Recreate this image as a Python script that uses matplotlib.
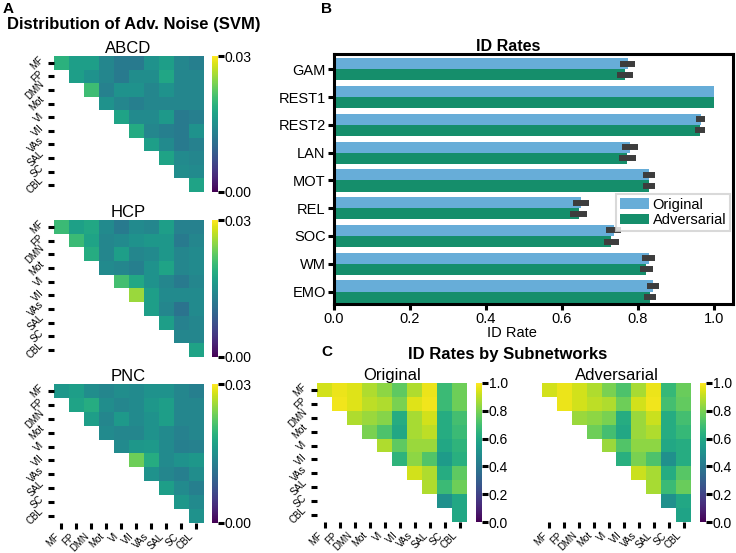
import numpy as np
import matplotlib
matplotlib.use("Agg")
import matplotlib.pyplot as plt

plt.rcParams['font.family'] = ['Liberation Sans', 'DejaVu Sans']

W, H = 736, 553

nets = ['MF', 'FP', 'DMN', 'Mot', 'VI', 'VII', 'VAs', 'SAL', 'SC', 'CBL']

# adversarial noise (fraction of the 0.03 colour range), upper triangle row by row
abcd_rows = [
    [0.64, 0.56, 0.56, 0.46, 0.41, 0.41, 0.51, 0.56, 0.46, 0.43],
    [0.56, 0.51, 0.46, 0.41, 0.49, 0.49, 0.59, 0.46, 0.46],
    [0.69, 0.44, 0.51, 0.51, 0.46, 0.51, 0.46, 0.46],
    [0.51, 0.46, 0.43, 0.46, 0.46, 0.46, 0.46],
    [0.58, 0.48, 0.48, 0.54, 0.41, 0.43],
    [0.61, 0.46, 0.43, 0.41, 0.51],
    [0.56, 0.48, 0.41, 0.44],
    [0.58, 0.48, 0.46],
    [0.49, 0.48],
    [0.58],
]
hcp_rows = [
    [0.68, 0.57, 0.60, 0.48, 0.41, 0.48, 0.46, 0.56, 0.44, 0.44],
    [0.68, 0.58, 0.46, 0.48, 0.51, 0.53, 0.53, 0.41, 0.46],
    [0.62, 0.46, 0.56, 0.46, 0.48, 0.53, 0.46, 0.48],
    [0.48, 0.46, 0.43, 0.51, 0.58, 0.46, 0.48],
    [0.70, 0.60, 0.51, 0.46, 0.41, 0.46],
    [0.85, 0.56, 0.48, 0.48, 0.48],
    [0.56, 0.46, 0.38, 0.48],
    [0.56, 0.44, 0.46],
    [0.46, 0.46],
    [0.58],
]
pnc_rows = [
    [0.53, 0.56, 0.49, 0.46, 0.49, 0.48, 0.51, 0.51, 0.46, 0.43],
    [0.58, 0.62, 0.49, 0.46, 0.48, 0.53, 0.56, 0.46, 0.46],
    [0.56, 0.46, 0.54, 0.48, 0.51, 0.56, 0.46, 0.46],
    [0.48, 0.46, 0.46, 0.51, 0.48, 0.44, 0.46],
    [0.48, 0.53, 0.54, 0.48, 0.43, 0.44],
    [0.78, 0.62, 0.48, 0.51, 0.53],
    [0.51, 0.46, 0.43, 0.49],
    [0.56, 0.48, 0.43],
    [0.53, 0.48],
    [0.51],
]

# ID rates by subnetwork pair
orig_rows = [
    [0.93, 0.97, 0.95, 0.88, 0.83, 0.75, 0.88, 0.97, 0.68, 0.78],
    [0.98, 0.95, 0.90, 0.88, 0.80, 0.95, 0.98, 0.68, 0.78],
    [0.88, 0.85, 0.82, 0.62, 0.87, 0.93, 0.62, 0.70],
    [0.80, 0.72, 0.60, 0.87, 0.90, 0.62, 0.68],
    [0.88, 0.75, 0.85, 0.85, 0.60, 0.65],
    [0.65, 0.83, 0.73, 0.55, 0.63],
    [0.93, 0.88, 0.62, 0.75],
    [0.88, 0.68, 0.78],
    [0.50, 0.60],
    [0.60],
]
adv_rows = [
    [0.93, 0.97, 0.93, 0.88, 0.80, 0.72, 0.87, 0.97, 0.67, 0.77],
    [0.97, 0.93, 0.90, 0.88, 0.78, 0.93, 0.98, 0.70, 0.76],
    [0.85, 0.83, 0.80, 0.62, 0.85, 0.92, 0.62, 0.70],
    [0.78, 0.70, 0.60, 0.85, 0.88, 0.62, 0.67],
    [0.85, 0.73, 0.83, 0.83, 0.60, 0.62],
    [0.63, 0.80, 0.72, 0.50, 0.62],
    [0.92, 0.87, 0.62, 0.74],
    [0.87, 0.68, 0.77],
    [0.50, 0.60],
    [0.58],
]

tasks = ['GAM', 'REST1', 'REST2', 'LAN', 'MOT', 'REL', 'SOC', 'WM', 'EMO']
orig_rate = [0.773, 1.0, 0.965, 0.778, 0.830, 0.650, 0.736, 0.828, 0.840]
adv_rate = [0.767, 1.0, 0.963, 0.772, 0.830, 0.644, 0.730, 0.822, 0.832]
orig_err = [0.020, 0.0, 0.012, 0.021, 0.016, 0.022, 0.020, 0.018, 0.016]
adv_err = [0.021, 0.0, 0.013, 0.022, 0.016, 0.022, 0.020, 0.018, 0.016]

c_orig = '#67add8'
c_adv = '#158e6b'


def to_matrix(rows, scale=1.0):
    n = len(rows)
    m = np.full((n, n), np.nan)
    for i, r in enumerate(rows):
        m[i, i:] = np.array(r) * scale
    return np.ma.masked_invalid(m)


def px_axes(fig, left, top, right, bottom):
    return fig.add_axes([left / W, 1 - bottom / H, (right - left) / W, (bottom - top) / H])


def draw_heat(fig, mat, box, cbox, vmax, ticks, fmt, title, ylab=True, xlab=False):
    ax = px_axes(fig, *box)
    im = ax.imshow(mat, cmap='viridis', vmin=0, vmax=vmax, aspect='auto',
                   interpolation='nearest')
    for s in ax.spines.values():
        s.set_visible(False)
    ax.set_title(title, fontsize=12, pad=2)
    ax.set_yticks(range(len(nets)))
    ax.set_xticks(range(len(nets)))
    ax.tick_params(width=2.2, length=4, labelsize=7, pad=2)
    if ylab:
        ax.set_yticklabels(nets, rotation=45, ha='right', va='center')
    else:
        ax.set_yticks([])
    if xlab:
        ax.set_xticklabels(nets, rotation=45, ha='right', va='top')
    else:
        ax.set_xticks([])
    cax = px_axes(fig, *cbox)
    cb = fig.colorbar(im, cax=cax, ticks=ticks)
    cb.outline.set_visible(False)
    cb.ax.set_yticklabels([fmt.format(t) for t in ticks])
    cb.ax.tick_params(width=2.2, length=4, labelsize=10, pad=1)
    return ax


fig = plt.figure(figsize=(W / 100, H / 100), dpi=100)

# panel A
fig.text(3 / W, 1 - 9 / H, 'A', fontsize=11, fontweight='bold', va='center')
fig.text(134 / W, 1 - 25 / H, 'Distribution of Adv. Noise (SVM)', fontsize=12,
         fontweight='bold', ha='center', va='center')
nticks = [0.0, 0.03]
draw_heat(fig, to_matrix(abcd_rows, 0.03), (54, 56, 203, 192), (212, 56, 218, 192),
          0.03, nticks, '{:.2f}', 'ABCD')
draw_heat(fig, to_matrix(hcp_rows, 0.03), (54, 220, 203, 357), (212, 220, 218, 357),
          0.03, nticks, '{:.2f}', 'HCP')
draw_heat(fig, to_matrix(pnc_rows, 0.03), (54, 384, 203, 523), (212, 384, 218, 523),
          0.03, nticks, '{:.2f}', 'PNC', xlab=True)

# panel B
fig.text(321 / W, 1 - 9 / H, 'B', fontsize=11, fontweight='bold', va='center')
axb = px_axes(fig, 334, 54, 733, 304)
y = np.arange(len(tasks))
axb.barh(y - 0.2, orig_rate, height=0.4, color=c_orig, label='Original')
axb.barh(y + 0.2, adv_rate, height=0.4, color=c_adv, label='Adversarial')
axb.errorbar(orig_rate, y - 0.2, xerr=orig_err, fmt='none', ecolor='#3d3d3d',
             elinewidth=4.3, capsize=0)
axb.errorbar(adv_rate, y + 0.2, xerr=adv_err, fmt='none', ecolor='#3d3d3d',
             elinewidth=4.3, capsize=0)
axb.set_yticks(y)
axb.set_yticklabels(tasks)
axb.set_ylim(8.45, -0.55)
axb.set_xlim(0, 1.05)
axb.set_xticks([0, 0.2, 0.4, 0.6, 0.8, 1.0])
axb.tick_params(width=2.2, length=4, labelsize=10.5, pad=2)
for s in axb.spines.values():
    s.set_linewidth(2.2)
fig.text(508 / W, 1 - 47 / H, 'ID Rates', fontsize=11.5, fontweight='bold',
         ha='center', va='center')
fig.text(512 / W, 1 - 333 / H, 'ID Rate', fontsize=10.5, ha='center', va='center')
leg = axb.legend(loc='upper right', bbox_to_anchor=(730 / W, 1 - 194 / H),
                 bbox_transform=fig.transFigure, fontsize=10.5, frameon=True,
                 fancybox=False, borderpad=0.25, handlelength=2.0,
                 handletextpad=0.25, labelspacing=0.1, borderaxespad=0)
leg.get_frame().set_edgecolor('#d0d0d0')
leg.get_frame().set_linewidth(1.5)

# panel C
fig.text(321 / W, 1 - 352 / H, 'C', fontsize=11, fontweight='bold', va='center')
fig.text(508 / W, 1 - 355 / H, 'ID Rates by Subnetworks', fontsize=12,
         fontweight='bold', ha='center', va='center')
rticks = [0.0, 0.2, 0.4, 0.6, 0.8, 1.0]
draw_heat(fig, to_matrix(orig_rows), (317, 383, 467, 522), (476, 383, 482, 522),
          1.0, rticks, '{:.1f}', 'Original', xlab=True)
draw_heat(fig, to_matrix(adv_rows), (542, 383, 691, 522), (700, 383, 706, 522),
          1.0, rticks, '{:.1f}', 'Adversarial', ylab=False, xlab=True)

fig.savefig('out.png', dpi=100)
